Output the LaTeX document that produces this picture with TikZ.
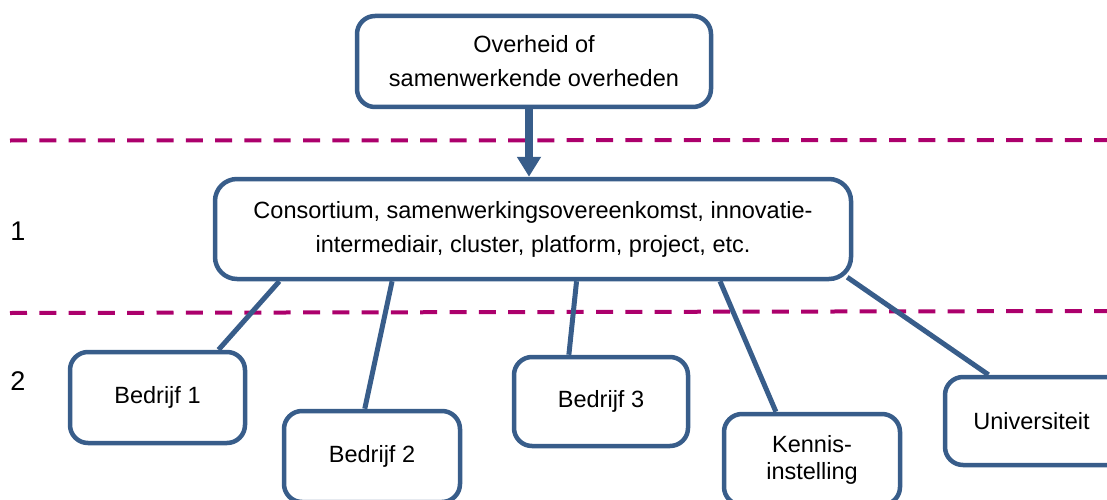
\documentclass[tikz,border=0pt]{standalone}
\usepackage{fontspec}
\setmainfont{Liberation Sans}
\usetikzlibrary{arrows.meta,calc}

\definecolor{frameblue}{RGB}{56,93,138}
\definecolor{levelline}{RGB}{172,0,108}

\tikzset{
  box/.style={draw=frameblue, line width=4.5pt, rounded corners=18pt, fill=white,
    align=center, inner sep=0pt, font=\fontsize{23.5}{34}\selectfont},
  link/.style={draw=frameblue, line width=5pt},
  feed/.style={draw=frameblue, line width=7.5pt,
    -{Triangle[width=23pt,length=20pt]}},
  levelsep/.style={draw=levelline, line width=4pt, dash pattern=on 17pt off 12.3pt},
  levelnum/.style={font=\fontsize{27}{30}\selectfont, inner sep=0pt}
}

\begin{document}
\begin{tikzpicture}[x=1pt,y=-1pt]
\useasboundingbox (0,0) rectangle (1107,500);

% level separators
\coordinate (sepAleft) at (10,140.5);
\coordinate (sepAright) at (1107,140);
\coordinate (sepBleft) at (10,313);
\coordinate (sepBright) at (1107,311);
\draw[levelsep] (sepAleft) -- (sepAright);
\draw[levelsep] (sepBleft) -- (sepBright);

% level numbers
\node[levelnum] (lvlone) at (18,231) {1};
\node[levelnum] (lvltwo) at (18,381) {2};

% boxes
\node[box, minimum width=354pt, minimum height=91pt] (gov) at (534,61.5)
  {Overheid of\\samenwerkende overheden};
\node[box, rounded corners=22pt, minimum width=636pt, minimum height=100pt] (mid) at (533,229)
  {Consortium, samenwerkingsovereenkomst, innovatie-\\intermediair, cluster, platform, project, etc.};
\node[box, minimum width=175pt, minimum height=91pt] (bone) at (157.5,397.5) {Bedrijf 1};
\node[box, minimum width=176pt, minimum height=91pt] (btwo) at (372,456.5) {Bedrijf 2};
\node[box, minimum width=174pt, minimum height=89pt] (bthree) at (601,401.5) {Bedrijf 3};
\node[box, minimum width=176pt, minimum height=91pt,
  font=\fontsize{23.5}{27}\selectfont] (kennis) at (812,459.5) {Kennis-\\instelling};
\node[box, minimum width=190pt, minimum height=88pt] (univ) at (1040,421)
  {Universiteit\hspace*{17pt}};

% connectors from the consortium box to its members
\draw[link] ($(mid.south west)!0.104!(mid.south east)$) -- ($(bone.north west)!0.84!(bone.north east)$);
\draw[link] ($(mid.south west)!0.28!(mid.south east)$) -- ($(btwo.north west)!0.46!(btwo.north east)$);
\draw[link] ($(mid.south west)!0.568!(mid.south east)$) -- ($(bthree.north west)!0.32!(bthree.north east)$);
\draw[link] ($(mid.south west)!0.792!(mid.south east)$) -- ($(kennis.north west)!0.30!(kennis.north east)$);
\draw[link] ($(mid.south east)+(-6,-4)$) -- ($(univ.north west)!0.235!(univ.north east)$);

% government feeds the consortium
\draw[feed] ($(gov.south)+(-5,0)$) -- ($(mid.north)+(-4,0)$);
\end{tikzpicture}
\end{document}
